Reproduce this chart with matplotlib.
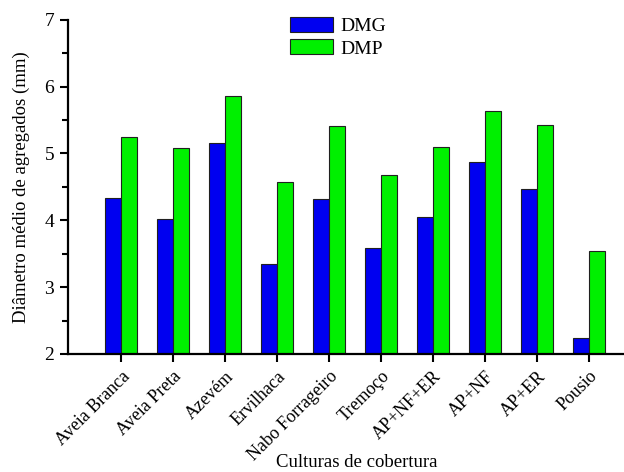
import matplotlib.pyplot as plt
import numpy as np
from matplotlib.ticker import MultipleLocator

culturas = ["Aveia Branca", "Aveia Preta", "Azevém", "Ervilhaca", "Nabo Forrageiro",
            "Tremoço", "AP+NF+ER", "AP+NF", "AP+ER", "Pousio"]
dmg = [4.34, 4.02, 5.16, 3.35, 4.32, 3.58, 4.05, 4.87, 4.47, 2.24]
dmp = [5.25, 5.08, 5.86, 4.57, 5.41, 4.68, 5.10, 5.64, 5.43, 3.54]

plt.rcParams['font.family'] = ['Liberation Serif', 'DejaVu Serif']
plt.rcParams['font.size'] = 14

fig = plt.figure(figsize=(6.24, 4.72), dpi=100)
ax = fig.add_axes([0.109, 0.25, 0.95, 0.708])

x = np.arange(len(culturas))
w = 0.3
ax.bar(x - w / 2, dmg, w, color='#0000f0', edgecolor='#202020', linewidth=0.8, label='DMG')
ax.bar(x + w / 2, dmp, w, color='#00f000', edgecolor='#202020', linewidth=0.8, label='DMP')

ax.set_ylim(2, 7)
ax.set_xlim(-1.02, 10.38)
ax.yaxis.set_major_locator(MultipleLocator(1))
ax.yaxis.set_minor_locator(MultipleLocator(0.5))
ax.set_xticks(x)
ax.set_xticklabels(culturas, rotation=45, ha='right', rotation_mode='anchor', fontsize=13)

for s in ['top', 'right']:
    ax.spines[s].set_visible(False)
for s in ['left', 'bottom']:
    ax.spines[s].set_linewidth(1.6)
ax.tick_params(axis='both', which='major', length=6, width=1.5, pad=4)
ax.tick_params(axis='y', labelsize=14)
ax.tick_params(axis='y', which='minor', length=4, width=1.5)

ax.set_ylabel("Diâmetro médio de agregados (mm)", fontsize=13.5)
ax.yaxis.set_label_coords(-0.064, 0.5)
ax.set_xlabel("Culturas de cobertura", fontsize=13.5)
ax.xaxis.set_label_coords(0.487, -0.30)

ax.legend(loc='upper left', bbox_to_anchor=(0.345, 1.06), frameon=False,
          handlelength=2.2, handleheight=0.8, labelspacing=0.2, handletextpad=0.4,
          fontsize=14)

fig.savefig("out.png", dpi=100)
